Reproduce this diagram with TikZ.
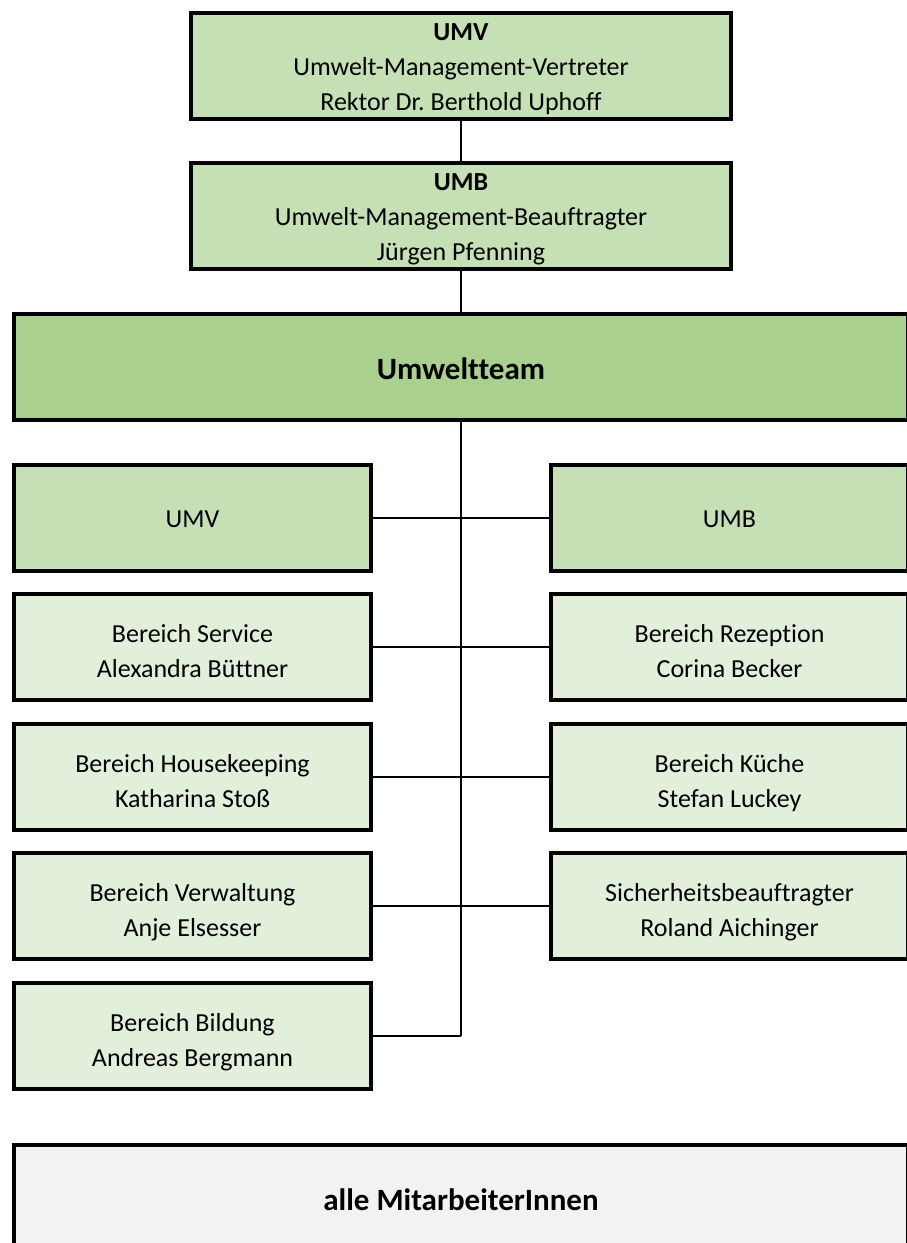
\documentclass[tikz,border=0pt]{standalone}
\usepackage{fontspec}
\setmainfont[Ligatures=NoCommon]{Carlito}
\frenchspacing
\definecolor{headgreen}{HTML}{C5E0B4}
\definecolor{teamgreen}{HTML}{A9D08E}
\definecolor{palegreen}{HTML}{E2EFDA}
\definecolor{staffgrey}{HTML}{F2F2F2}
% fixed first-line height so every box centres its lines alike
\newcommand\firstline[1][25pt]{\rule{0pt}{#1}}
\tikzset{
  orgbox/.style={draw=black, line width=3.5pt, rectangle, inner sep=0pt,
    align=center, minimum height=106pt, text depth=0pt,
    font=\fontsize{26}{35}\selectfont},
  wide/.style={orgbox, minimum width=540pt},
  full/.style={orgbox, minimum width=894pt, font=\fontsize{31}{35}\selectfont\bfseries},
  side/.style={orgbox, minimum width=357pt},
  link/.style={draw=black, line width=2.5pt}
}
\begin{document}
\begin{tikzpicture}[x=1pt, y=-1pt]
\useasboundingbox (0,0) rectangle (907,1243);
\clip (0,0) rectangle (907,1243);

% management chain
\node[wide, fill=headgreen] (umv) at (461,66)
  {\firstline[18pt]\textbf{UMV}\\Umwelt-Management-Vertreter\\Rektor Dr. Berthold Uphoff};
\node[wide, fill=headgreen] (umb) at (461,216)
  {\firstline[18pt]\textbf{UMB}\\Umwelt-Management-Beauftragter\\Jürgen Pfenning};
\node[full, fill=teamgreen] (team) at (461,367) {\firstline Umweltteam};

% team members, left and right column
\node[side, fill=headgreen] (l1) at (192.5,518) {\firstline[18pt]UMV};
\node[side, fill=headgreen] (r1) at (729.5,518) {\firstline[18pt]UMB};
\node[side, fill=palegreen] (l2) at (192.5,647) {\firstline Bereich Service\\Alexandra Büttner};
\node[side, fill=palegreen] (r2) at (729.5,647) {\firstline Bereich Rezeption\\Corina Becker};
\node[side, fill=palegreen] (l3) at (192.5,777) {\firstline Bereich Housekeeping\\Katharina Stoß};
\node[side, fill=palegreen] (r3) at (729.5,777) {\firstline Bereich Küche\\Stefan Luckey};
\node[side, fill=palegreen] (l4) at (192.5,906) {\firstline Bereich Verwaltung\\Anje Elsesser};
\node[side, fill=palegreen] (r4) at (729.5,906) {\firstline Sicherheitsbeauftragter\\Roland Aichinger};
\node[side, fill=palegreen] (l5) at (192.5,1036) {\firstline Bereich Bildung\\Andreas Bergmann};

% all staff
\node[full, fill=staffgrey] (staff) at (461,1198) {\firstline alle MitarbeiterInnen};

% connectors
\coordinate (trunkend) at (461,1036);
\draw[link] (umv.south) -- (umb.north);
\draw[link] (umb.south) -- (team.north);
\draw[link] (team.south) -- (trunkend);
\draw[link] (l1.east) -- (r1.west);
\draw[link] (l2.east) -- (r2.west);
\draw[link] (l3.east) -- (r3.west);
\draw[link] (l4.east) -- (r4.west);
\draw[link] (l5.east) -- (trunkend);
\end{tikzpicture}
\end{document}
